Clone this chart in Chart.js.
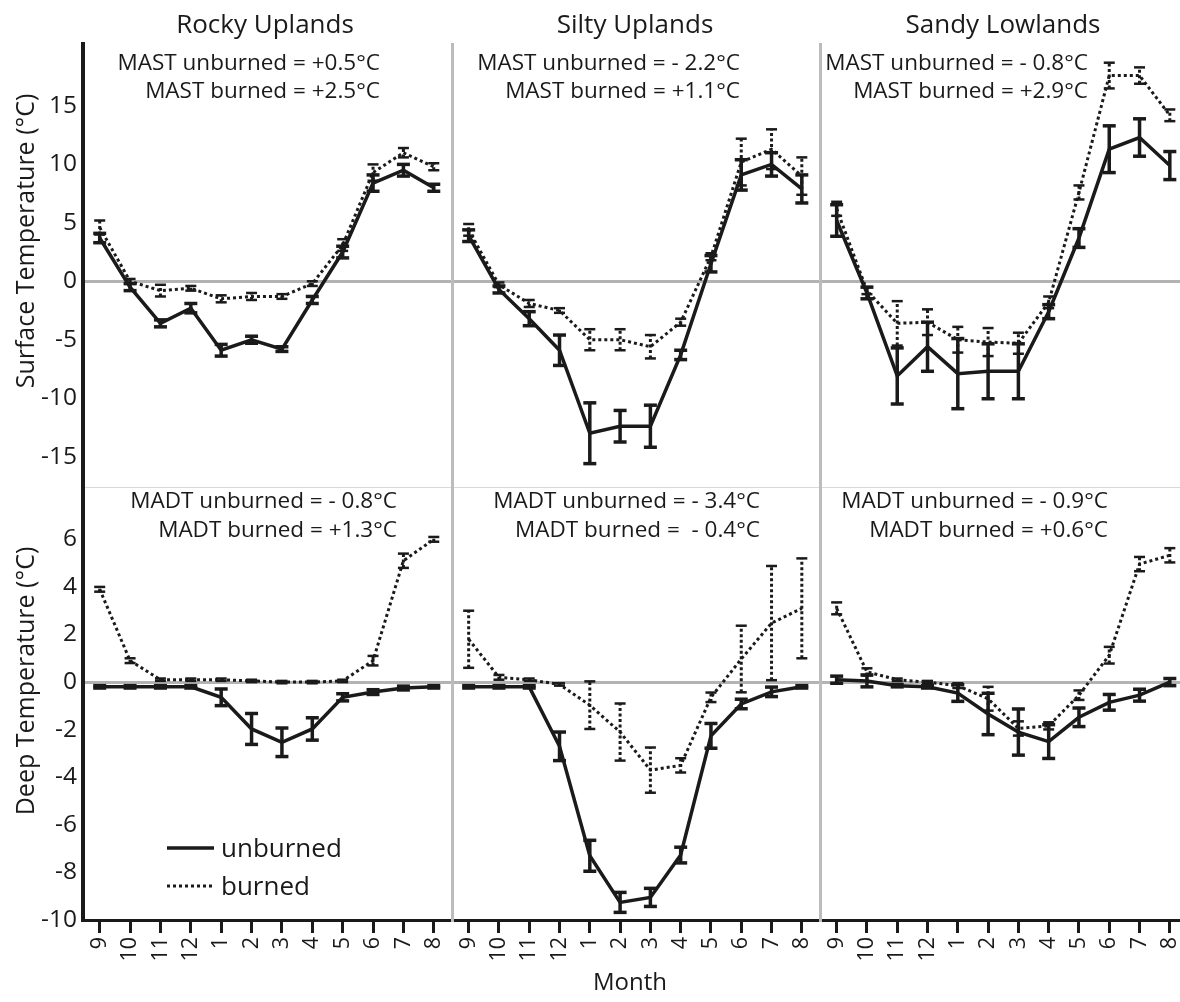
<!DOCTYPE html>
<html>
<head>
<meta charset="utf-8">
<title>Surface and deep soil temperature by month</title>
<script src="https://cdn.jsdelivr.net/npm/chart.js@4/dist/chart.umd.min.js"></script>
<style>
  html, body { margin:0; padding:0; background:#fff; }
  body { width:1180px; height:1002px; position:relative; overflow:hidden; }
  canvas { position:absolute; }
</style>
</head>
<body>
<canvas id="s0" width="452" height="488" style="left:0px;top:0px"></canvas>
<canvas id="s1" width="370" height="488" style="left:450px;top:0px"></canvas>
<canvas id="s2" width="370" height="488" style="left:818px;top:0px"></canvas>
<canvas id="d0" width="452" height="515" style="left:0px;top:487px"></canvas>
<canvas id="d1" width="370" height="515" style="left:450px;top:487px"></canvas>
<canvas id="d2" width="370" height="515" style="left:818px;top:487px"></canvas>
<script>
// ---------------- data ----------------
const months = ['9','10','11','12','1','2','3','4','5','6','7','8'];
const regions = ['Rocky Uplands', 'Silty Uplands', 'Sandy Lowlands'];
const surfTicks = [-15, -10, -5, 0, 5, 10, 15];
const deepTicks = [-10, -8, -6, -4, -2, 0, 2, 4, 6];

const mastUnburned = ['+0.5', '- 2.2', '- 0.8'];
const mastBurned   = ['+2.5', '+1.1', '+2.9'];
const madtUnburned = ['- 0.8', '- 3.4', '- 0.9'];
const madtBurned   = ['+1.3', ' - 0.4', '+0.6'];

// Surface temperature (°C)
const rockySurfUnburned    = [3.7, -0.5, -3.6, -2.3, -5.9, -5.0, -5.8, -1.6, 2.5, 8.4, 9.5, 8.0];
const rockySurfUnburnedErr = [0.4, 0.3, 0.3, 0.4, 0.5, 0.3, 0.2, 0.3, 0.5, 0.7, 0.5, 0.3];
const rockySurfBurned      = [4.6, 0.0, -0.8, -0.6, -1.5, -1.3, -1.3, -0.2, 3.1, 9.3, 11.0, 9.8];
const rockySurfBurnedErr   = [0.6, 0.2, 0.5, 0.2, 0.3, 0.3, 0.2, 0.2, 0.5, 0.7, 0.4, 0.3];

const siltySurfUnburned    = [3.9, -0.7, -3.2, -5.9, -13.0, -12.4, -12.4, -6.3, 1.5, 9.1, 10.0, 7.9];
const siltySurfUnburnedErr = [0.5, 0.3, 0.6, 1.3, 2.6, 1.35, 1.8, 0.4, 0.7, 1.3, 1.0, 1.2];
const siltySurfBurned      = [4.4, -0.3, -1.9, -2.5, -5.0, -5.0, -5.6, -3.5, 2.1, 10.2, 11.3, 9.0];
const siltySurfBurnedErr   = [0.5, 0.2, 0.3, 0.2, 0.9, 0.9, 1.0, 0.3, 0.3, 2.0, 1.7, 1.6];

const sandySurfUnburned    = [5.2, -1.0, -8.1, -5.6, -7.9, -7.7, -7.7, -2.6, 3.7, 11.3, 12.3, 9.9];
const sandySurfUnburnedErr = [1.35, 0.5, 2.4, 2.1, 3.0, 2.35, 2.35, 0.6, 0.8, 2.0, 1.6, 1.2];
const sandySurfBurned      = [6.2, -0.8, -3.6, -3.5, -5.0, -5.2, -5.3, -1.8, 7.6, 17.6, 17.6, 14.2];
const sandySurfBurnedErr   = [0.6, 0.3, 1.9, 1.1, 1.1, 1.2, 0.9, 0.5, 0.6, 1.1, 0.7, 0.5];

// Deep temperature (°C)
const rockyDeepUnburned    = [-0.2, -0.2, -0.2, -0.2, -0.64, -1.97, -2.53, -1.97, -0.64, -0.42, -0.25, -0.2];
const rockyDeepUnburnedErr = [0.05, 0.05, 0.05, 0.05, 0.35, 0.65, 0.6, 0.47, 0.15, 0.1, 0.08, 0.05];
const rockyDeepBurned      = [3.9, 0.9, 0.1, 0.1, 0.1, 0.05, 0.0, 0.0, 0.05, 0.9, 5.1, 6.0];
const rockyDeepBurnedErr   = [0.1, 0.1, 0.05, 0.05, 0.05, 0.05, 0.05, 0.05, 0.05, 0.2, 0.3, 0.1];

const siltyDeepUnburned    = [-0.2, -0.2, -0.2, -2.7, -7.3, -9.26, -9.05, -7.27, -2.26, -0.92, -0.41, -0.2];
const siltyDeepUnburnedErr = [0.05, 0.05, 0.05, 0.6, 0.65, 0.42, 0.38, 0.33, 0.52, 0.2, 0.2, 0.05];
const siltyDeepBurned      = [1.8, 0.2, 0.1, -0.1, -0.97, -2.1, -3.7, -3.5, -0.64, 0.97, 2.48, 3.1];
const siltyDeepBurnedErr   = [1.2, 0.1, 0.05, 0.05, 1.0, 1.2, 0.95, 0.3, 0.2, 1.4, 2.4, 2.1];

const sandyDeepUnburned    = [0.1, 0.05, -0.15, -0.2, -0.46, -1.34, -2.1, -2.5, -1.48, -0.85, -0.55, 0.0];
const sandyDeepUnburnedErr = [0.15, 0.25, 0.05, 0.05, 0.35, 0.87, 0.97, 0.71, 0.39, 0.33, 0.25, 0.15];
const sandyDeepBurned      = [3.1, 0.43, 0.1, 0.0, -0.15, -0.7, -1.95, -1.84, -0.55, 1.13, 4.96, 5.33];
const sandyDeepBurnedErr   = [0.25, 0.15, 0.05, 0.05, 0.1, 0.5, 0.3, 0.15, 0.2, 0.35, 0.3, 0.3];

// ---------------- style / layout ----------------
const INK = '#1a1a1a';
const BORDER_GRAY = '#bcbcbc';
const ZERO_GRAY = '#b3b3b3';
const SEP_GRAY = '#d8d8d8';
const FONT = '"Open Sans", "Noto Sans", "DejaVu Sans", sans-serif';
Chart.defaults.font.family = FONT;
Chart.defaults.color = INK;

const LAYOUT = {
  colLeft: [0, 450, 818],
  axisWidth: [83, 2, 2],
  rowTop: { surf: 0, deep: 487 },
  padTop: { surf: 44, deep: 0 },
  xAxisHeight: { surf: 1, deep: 82 },
  titleX: [265, 635, 1003], titleY: 33,
  noteRight: { surf: [380, 740, 1088], deep: [397, 760, 1108] },
  noteBase: { surf: [70, 98], deep: [508, 537] },
};
const RANGE = {
  x: [-0.55, 11.6],
  surf: [-17.6, 20.3],
  deep: [-10, 8.2],
};

const panelData = {
  surf: [
    [rockySurfUnburned, rockySurfUnburnedErr, rockySurfBurned, rockySurfBurnedErr],
    [siltySurfUnburned, siltySurfUnburnedErr, siltySurfBurned, siltySurfBurnedErr],
    [sandySurfUnburned, sandySurfUnburnedErr, sandySurfBurned, sandySurfBurnedErr],
  ],
  deep: [
    [rockyDeepUnburned, rockyDeepUnburnedErr, rockyDeepBurned, rockyDeepBurnedErr],
    [siltyDeepUnburned, siltyDeepUnburnedErr, siltyDeepBurned, siltyDeepBurnedErr],
    [sandyDeepUnburned, sandyDeepUnburnedErr, sandyDeepBurned, sandyDeepBurnedErr],
  ],
};

function series(mean) { return mean.map((v, i) => ({ x: i, y: v })); }
function whiskers(mean, err) {
  const out = [];
  mean.forEach((v, i) => { out.push({ x: i, y: v - err[i] }, { x: i, y: v + err[i] }, { x: i, y: null }); });
  return out;
}

function decoPlugin(row, col) {
  return {
    id: 'deco_' + row + col,
    afterDraw(chart) {
      const ctx = chart.ctx;
      ctx.save();
      ctx.translate(-LAYOUT.colLeft[col], -LAYOUT.rowTop[row]);
      ctx.fillStyle = INK;
      ctx.strokeStyle = INK;
      if (row === 'surf') {
        ctx.font = '26px ' + FONT;
        ctx.textAlign = 'center';
        ctx.textBaseline = 'alphabetic';
        ctx.fillText(regions[col], LAYOUT.titleX[col], LAYOUT.titleY);
      }
      ctx.font = '22.5px ' + FONT;
      ctx.textAlign = 'right';
      ctx.textBaseline = 'alphabetic';
      const r = LAYOUT.noteRight[row][col];
      const b = LAYOUT.noteBase[row];
      if (row === 'surf') {
        ctx.fillText('MAST unburned = ' + mastUnburned[col] + '°C', r, b[0]);
        ctx.fillText('MAST burned = ' + mastBurned[col] + '°C', r, b[1]);
      } else {
        ctx.fillText('MADT unburned = ' + madtUnburned[col] + '°C', r, b[0]);
        ctx.fillText('MADT burned = ' + madtBurned[col] + '°C', r, b[1]);
      }
      if (col === 0) {
        ctx.save();
        ctx.font = '25px ' + FONT;
        ctx.textAlign = 'center';
        ctx.textBaseline = 'alphabetic';
        ctx.translate(34, row === 'surf' ? 241 : 681);
        ctx.rotate(-Math.PI / 2);
        ctx.fillText(row === 'surf' ? 'Surface Temperature (°C)' : 'Deep Temperature (°C)', 0, 0);
        ctx.restore();
      }
      if (row === 'deep' && col === 0) {
        ctx.lineWidth = 3.5;
        ctx.beginPath(); ctx.moveTo(167, 848); ctx.lineTo(214, 848); ctx.stroke();
        ctx.setLineDash([3, 3]);
        ctx.lineWidth = 3;
        ctx.beginPath(); ctx.moveTo(167, 886); ctx.lineTo(214, 886); ctx.stroke();
        ctx.setLineDash([]);
        ctx.font = '26px ' + FONT;
        ctx.textAlign = 'left';
        ctx.fillText('unburned', 221, 857);
        ctx.fillText('burned', 221, 895);
      }
      if (row === 'deep' && col === 1) {
        ctx.font = '24px ' + FONT;
        ctx.textAlign = 'center';
        ctx.fillText('Month', 630, 990);
      }
      ctx.restore();
    }
  };
}

function makePanel(row, col) {
  const [u, ue, bu, be] = panelData[row][col];
  const ticksY = row === 'surf' ? surfTicks : deepTicks;
  const isBottom = row === 'deep';
  const datasets = [
    { label: 'unburned', data: series(u), borderColor: INK, borderWidth: 3.5, pointRadius: 0, tension: 0 },
    { label: 'unburned error', data: whiskers(u, ue), borderColor: INK, borderWidth: 3.5, spanGaps: false,
      pointStyle: 'line', pointRadius: 6.5, pointBorderWidth: 3.5, pointBorderColor: INK, pointBackgroundColor: INK },
    { label: 'burned', data: series(bu), borderColor: INK, borderWidth: 3, borderDash: [3, 3], borderCapStyle: 'butt',
      pointRadius: 0, tension: 0 },
    { label: 'burned error', data: whiskers(bu, be), borderColor: INK, borderWidth: 3, borderDash: [3, 2.5], spanGaps: false,
      pointStyle: 'line', pointRadius: 5.5, pointBorderWidth: 2.5, pointBorderColor: INK, pointBackgroundColor: INK },
  ];
  const xScale = {
    type: 'linear', min: RANGE.x[0], max: RANGE.x[1],
    afterBuildTicks: s => { s.ticks = months.map((m, i) => ({ value: i })); },
    afterFit: s => { s.height = LAYOUT.xAxisHeight[row]; s.paddingLeft = 0; s.paddingRight = 0; },
  };
  if (isBottom) {
    Object.assign(xScale, {
      ticks: { display: true, autoSkip: false, minRotation: 90, maxRotation: 90, padding: 4, color: INK,
               font: { size: 21.5 }, callback: (v, i) => months[i] },
      grid: { display: true, drawOnChartArea: false, drawTicks: true, tickLength: 13, color: INK, lineWidth: 3 },
      border: { display: true, color: INK, width: 3 },
    });
  } else {
    Object.assign(xScale, {
      ticks: { display: false },
      grid: { display: false },
      border: { display: true, color: SEP_GRAY, width: 1 },
    });
  }
  const yScale = {
    type: 'linear', min: RANGE[row][0], max: RANGE[row][1],
    afterBuildTicks: s => { s.ticks = ticksY.map(v => ({ value: v })); },
    afterFit: s => { s.width = LAYOUT.axisWidth[col]; s.paddingTop = 0; s.paddingBottom = 0; },
    ticks: col === 0 ? { display: true, padding: 6, color: INK, font: { size: 24.5 } } : { display: false },
    grid: { display: true, drawTicks: false, lineWidth: 3,
            color: c => (c.tick && c.tick.value === 0) ? ZERO_GRAY : 'rgba(0,0,0,0)' },
    border: { display: true, color: col === 0 ? INK : BORDER_GRAY, width: col === 0 ? 4 : 3 },
  };
  return new Chart(document.getElementById((row === 'surf' ? 's' : 'd') + col), {
    type: 'line',
    data: { datasets },
    options: {
      responsive: false, animation: false, events: [],
      layout: { autoPadding: false, padding: { top: LAYOUT.padTop[row], left: 0, right: 0, bottom: 0 } },
      plugins: { legend: { display: false }, tooltip: { enabled: false }, title: { display: false } },
      scales: { x: xScale, y: yScale },
    },
    plugins: [decoPlugin(row, col)],
  });
}

['surf', 'deep'].forEach(row => [0, 1, 2].forEach(col => makePanel(row, col)));
</script>
</body>
</html>
